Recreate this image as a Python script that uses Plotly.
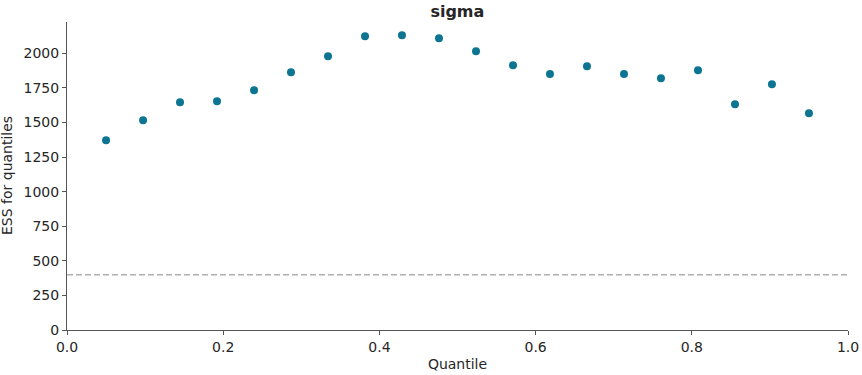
import numpy as np
import plotly.graph_objects as go

quantiles = [0.05, 0.0974, 0.1447, 0.1921, 0.2395, 0.2868, 0.3342, 0.3816, 0.4289, 0.4763,
             0.5237, 0.5711, 0.6184, 0.6658, 0.7132, 0.7605, 0.8079, 0.8553, 0.9026, 0.95]
ess_values = [1371, 1516, 1646, 1653, 1733, 1863, 1978, 2123, 2130, 2108,
              2014, 1913, 1850, 1906, 1850, 1819, 1877, 1631, 1776, 1566]
min_ess = 400
title = "sigma"
x_label = "Quantile"
y_label = "ESS for quantiles"
x_ticks = [0, 0.2, 0.4, 0.6, 0.8, 1.0]
x_ticklabels = ["0.0", "0.2", "0.4", "0.6", "0.8", "1.0"]
y_ticks = [0, 250, 500, 750, 1000, 1250, 1500, 1750, 2000]

FONT = "DejaVu Sans"
TXT = "#262626"

fig = go.Figure()
fig.add_trace(go.Scatter(x=quantiles, y=ess_values, mode="markers",
                         marker=dict(color="#0d7591", size=8, line=dict(width=0)),
                         showlegend=False))
fig.add_trace(go.Scatter(x=[0, 1], y=[min_ess, min_ess], mode="lines",
                         line=dict(color="#b0b0b0", dash="6px,3px", width=1.5),
                         showlegend=False))

fig.update_layout(
    width=862, height=375,
    margin=dict(l=67, r=14, t=22, b=45, autoexpand=False),
    plot_bgcolor="white", paper_bgcolor="white",
    font=dict(family=FONT, size=14, color=TXT),
    title=dict(text="<b>" + title + "</b>", x=0.5306, xanchor="center",
               yref="container", y=0.985, yanchor="top",
               font=dict(family=FONT, size=16, color=TXT)),
    annotations=[dict(text=y_label, textangle=-90, xref="paper", yref="paper",
                      x=0, y=0.5, xanchor="center", yanchor="middle",
                      xshift=-60, showarrow=False,
                      font=dict(family=FONT, size=14, color=TXT))],
)
fig.update_xaxes(range=[0, 1], tickvals=x_ticks, ticktext=x_ticklabels,
                 showgrid=False, zeroline=False, showline=True, linecolor="#555555",
                 linewidth=1, ticks="outside", ticklen=4, tickcolor="#555555",
                 automargin=False,
                 title=dict(text=x_label, standoff=5, font=dict(family=FONT, size=14, color=TXT)),
                 tickfont=dict(family=FONT, size=14, color=TXT))
fig.update_yaxes(range=[0, 2226], tickvals=y_ticks,
                 showgrid=False, zeroline=False, showline=True, linecolor="#555555",
                 linewidth=1, ticks="outside", ticklen=4, tickcolor="#555555",
                 automargin=False,
                 tickfont=dict(family=FONT, size=14, color=TXT))

fig.write_html("out.html", config={"displayModeBar": False},
               post_script="document.body.style.margin='0';")
